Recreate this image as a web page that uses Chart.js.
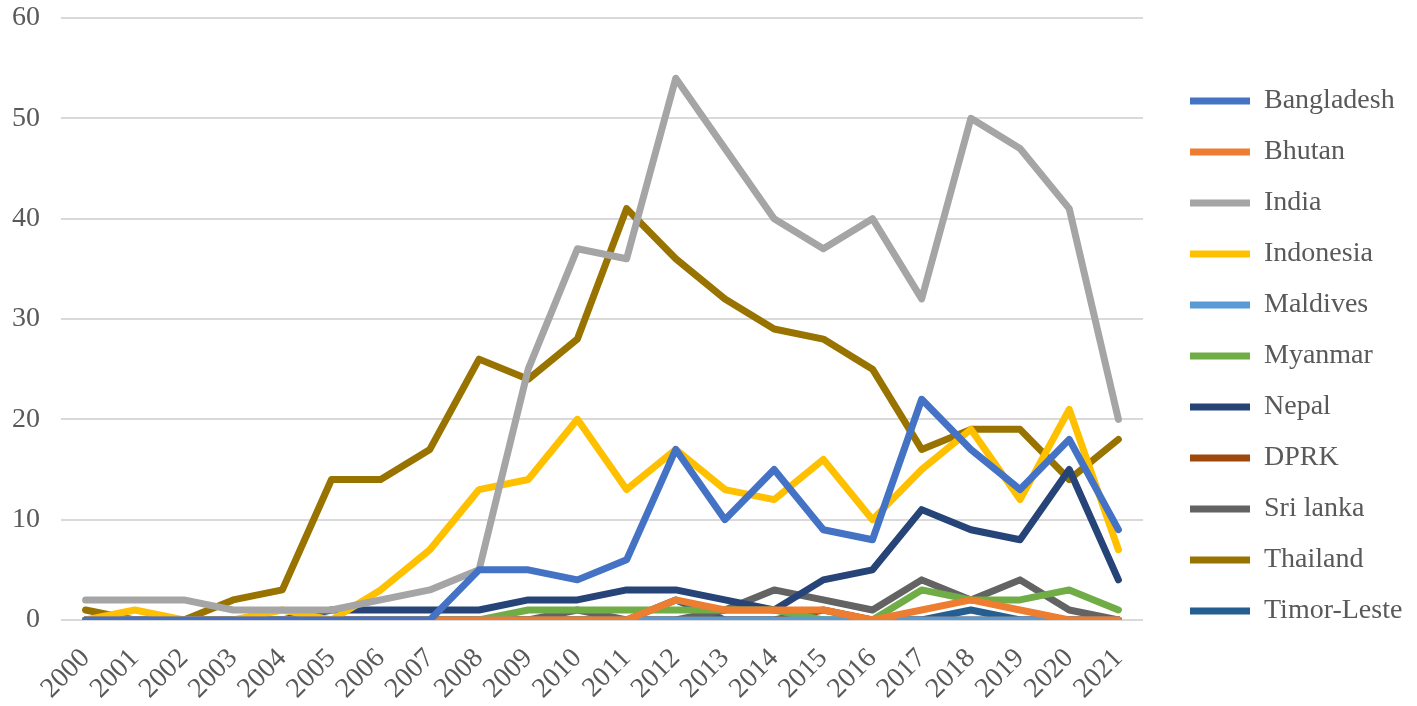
<!DOCTYPE html>
<html>
<head>
<meta charset="utf-8">
<script src="https://cdn.jsdelivr.net/npm/chart.js@4"></script>
<style>
html,body{margin:0;padding:0;background:#fff;}
#wrap{width:1417px;height:706px;position:relative;}
</style>
</head>
<body>
<div id="wrap"><canvas id="c"></canvas></div>
<script>
const years = ["2000","2001","2002","2003","2004","2005","2006","2007","2008","2009","2010","2011","2012","2013","2014","2015","2016","2017","2018","2019","2020","2021"];
const bangladesh = [0,0,0,0,0,0,0,0,5,5,4,6,17,10,15,9,8,22,17,13,18,9];
const bhutan     = [0,0,0,0,0,0,0,0,0,0,0,0,2,1,1,1,0,1,2,1,0,0];
const india      = [2,2,2,1,1,1,2,3,5,25,37,36,54,47,40,37,40,32,50,47,41,20];
const indonesia  = [0,1,0,0,1,0,3,7,13,14,20,13,17,13,12,16,10,15,19,12,21,7];
const maldives   = [0,0,0,0,0,0,0,0,0,0,0,0,0,0,0,0,0,0,0,0,0,0];
const myanmar    = [0,0,0,0,0,0,0,0,0,1,1,1,1,1,1,0,0,3,2,2,3,1];
const nepal      = [0,0,0,0,0,1,1,1,1,2,2,3,3,2,1,4,5,11,9,8,15,4];
const dprk       = [0,0,0,0,0,0,0,0,0,0,0,0,0,0,0,1,0,0,0,0,0,0];
const srilanka   = [0,0,0,0,0,0,0,0,0,0,1,0,0,1,3,2,1,4,2,4,1,0];
const thailand   = [1,0,0,2,3,14,14,17,26,24,28,41,36,32,29,28,25,17,19,19,14,18];
const timorleste = [0,0,0,0,0,0,0,0,0,0,0,0,2,0,0,0,0,0,1,0,0,0];
const yTicks = [0,10,20,30,40,50,60];

const seriesNames = ["Bangladesh","Bhutan","India","Indonesia","Maldives","Myanmar","Nepal","DPRK","Sri lanka","Thailand","Timor-Leste"];
const seriesData = [bangladesh,bhutan,india,indonesia,maldives,myanmar,nepal,dprk,srilanka,thailand,timorleste];
const seriesColors = ["#4472C4","#ED7D31","#A5A5A5","#FFC000","#5B9BD5","#70AD47","#264478","#9E480E","#636363","#997300","#255E91"];

const datasets = seriesNames.map((n,i)=>({
  label:n, data:seriesData[i], borderColor:seriesColors[i], backgroundColor:seriesColors[i],
  borderWidth:7, pointRadius:0, tension:0, fill:false,
  borderCapStyle:'round', borderJoinStyle:'round', pointStyle:'line'
}));

// legend placement tweaks
const LEGEND_W = 274;   // width reserved at the right for the legend
const LEGEND_DX = 24;   // shift of legend content to the right
const LEGEND_DY = -6;   // vertical shift of legend content
const legendTweak = {
  id:'legendTweak',
  beforeLayout(chart){
    const lg = chart.legend;
    if (lg && !lg._wrapped){
      const orig = lg.fit;
      lg.fit = function(){ orig.call(this); this.width = LEGEND_W; };
      lg._wrapped = true;
    }
  },
  afterLayout(chart){
    const lg = chart.legend;
    if (lg){ lg.left += LEGEND_DX; lg.right += LEGEND_DX; lg.top += LEGEND_DY; lg.bottom += LEGEND_DY; }
  }
};

const serif = "'Liberation Serif','Times New Roman',serif";
new Chart(document.getElementById('c'), {
  type:'line',
  data:{labels:years, datasets},
  plugins:[legendTweak],
  options:{
    responsive:true, maintainAspectRatio:false, animation:false,
    layout:{padding:{left:0,top:18,right:0,bottom:0}},
    plugins:{
      tooltip:{enabled:false},
      legend:{
        position:'right', align:'center',
        labels:{
          usePointStyle:true, pointStyle:'line', pointStyleWidth:60,
          font:{family:serif,size:28}, color:'#595959', padding:23
        }
      }
    },
    scales:{
      x:{
        offset:true,
        grid:{display:false},
        border:{display:false},
        ticks:{font:{family:serif,size:28}, color:'#595959', minRotation:45, maxRotation:45, padding:14, autoSkip:false},
        afterFit:(ax)=>{ ax.height = 86; ax.paddingLeft = 0; ax.paddingRight = 0; }
      },
      y:{
        min:0, max:60,
        afterBuildTicks:(ax)=>{ax.ticks = yTicks.map(v=>({value:v}));},
        grid:{color:'#D9D9D9', lineWidth:2, drawTicks:false},
        border:{display:false},
        ticks:{font:{family:serif,size:28}, color:'#595959', padding:21},
        afterFit:(ax)=>{ ax.width = 61; ax.paddingTop = 0; ax.paddingBottom = 0; }
      }
    }
  }
});
</script>
</body>
</html>
